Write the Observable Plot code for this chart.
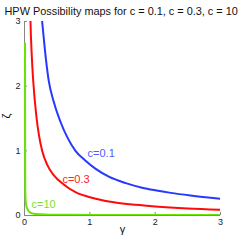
<!DOCTYPE html>
<html>
<head>
<meta charset="utf-8">
<script src="https://cdn.jsdelivr.net/npm/d3@7"></script>
<script src="https://cdn.jsdelivr.net/npm/@observablehq/plot@0.6"></script>
<style>
body { margin: 0; background: #fff; }
svg { font-family: "Liberation Sans", Arial, sans-serif; }
</style>
</head>
<body>
<div id="chart"></div>
<script>
const titleText = "HPW Possibility maps for c = 0.1, c = 0.3, c = 10";
const seriesNames = ["c=0.1", "c=0.3", "c=10"];
const seriesColors = ["#2638ff", "#ff0a0a", "#66e600"];
const labelColors = ["#4d5cff", "#ff2020", "#7ae02a"];
const labelGamma = [0.965, 0.58, 0.107];
const labelZeta = [0.96, 0.556, 0.17];
const xTicks = [0, 1, 2, 3];
const yTicks = [0, 1, 2, 3];

const blueGamma = [0.26, 0.27, 0.33, 0.37, 0.45, 0.55, 0.66, 0.78, 0.93, 1.09, 1.29, 1.55, 1.8, 2.0, 2.24, 2.54, 3.0];
const blueZeta  = [3.1, 3.0, 2.4, 2.09, 1.75, 1.45, 1.2, 1.0, 0.85, 0.72, 0.6, 0.5, 0.43, 0.39, 0.35, 0.31, 0.26];
const redGamma = [0.09, 0.092, 0.11, 0.133, 0.18, 0.22, 0.27, 0.35, 0.45, 0.6, 0.78, 1.09, 1.39, 1.7, 2.0, 2.5, 3.0];
const redZeta  = [3.1, 3.0, 2.5, 2.09, 1.55, 1.25, 1.0, 0.78, 0.62, 0.48, 0.36, 0.26, 0.2, 0.165, 0.14, 0.11, 0.09];
const greenGamma = [0.008, 0.009, 0.01, 0.012, 0.018, 0.03, 0.045, 0.07, 0.1, 0.14, 0.25, 0.4, 0.7, 1.2, 2.0, 3.0];
const greenZeta  = [2.66, 1.5, 0.8, 0.4, 0.22, 0.14, 0.1, 0.06, 0.04, 0.028, 0.018, 0.013, 0.01, 0.008, 0.007, 0.006];

const toRows = (g, z) => g.map((v, i) => ({g: v, z: z[i]}));
const series = [toRows(blueGamma, blueZeta), toRows(redGamma, redZeta), toRows(greenGamma, greenZeta)];
const labels = seriesNames.map((t, i) => ({t, g: labelGamma[i], z: labelZeta[i], c: labelColors[i]}));

const chart = Plot.plot({
  width: 244,
  height: 240,
  marginLeft: 24,
  marginRight: 24,
  marginTop: 21,
  marginBottom: 25,
  style: {fontFamily: "Liberation Sans, Arial, sans-serif", background: "#fff"},
  x: {domain: [0, 3]},
  y: {domain: [0, 3]},
  marks: [
    Plot.axisX({ticks: xTicks, tickSize: -3, tickPadding: 6, fontSize: 9, tickFormat: d3.format("d"), label: null, stroke: "#888", color: "#222"}),
    Plot.axisY({ticks: yTicks, tickSize: -3, tickPadding: 7, fontSize: 9, tickFormat: d3.format("d"), label: null, stroke: "#888", color: "#222"}),
    Plot.ruleX([0], {stroke: "#888"}),
    Plot.ruleY([0], {stroke: "#888"}),
    ...series.map((d, i) => Plot.line(d, {x: "g", y: "z", stroke: seriesColors[i], strokeWidth: 2, curve: "monotone-x", clip: true})),
    Plot.text(labels, {x: "g", y: "z", text: "t", fill: "c", textAnchor: "start", fontSize: 11}),
    Plot.text([titleText], {frameAnchor: "top-left", dx: -20, dy: -14, textAnchor: "start", fontSize: 10.9, fill: "#111"}),
    Plot.text(["γ"], {frameAnchor: "bottom", dy: 17, fontSize: 11, fill: "#111"}),
    Plot.text(["ζ"], {frameAnchor: "left", dx: -18, rotate: -90, fontSize: 11, fill: "#111"})
  ]
});
document.getElementById("chart").append(chart);
</script>
</body>
</html>
